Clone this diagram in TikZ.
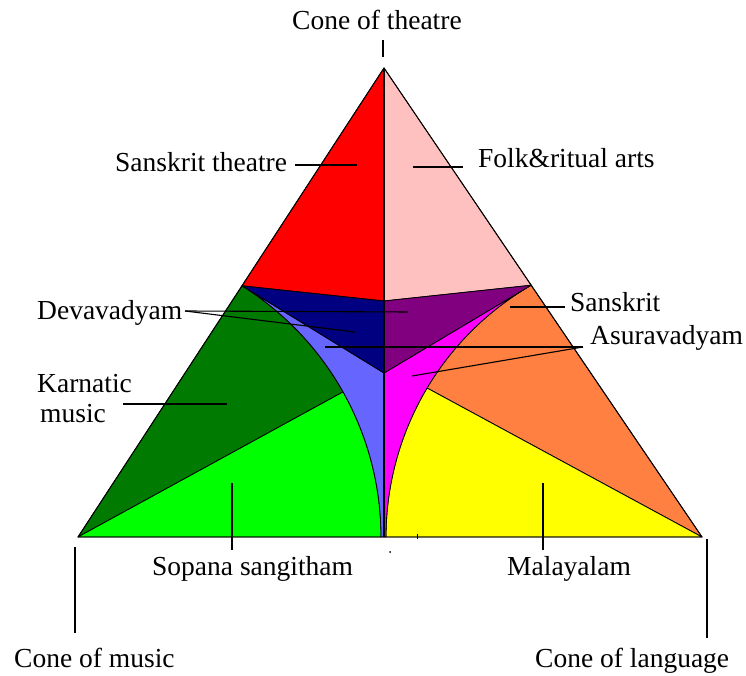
\documentclass[tikz,border=0pt]{standalone}
\usepackage{fontspec}
\setmainfont{Liberation Serif}
\definecolor{sktred}{RGB}{255,0,0}
\definecolor{folkpink}{RGB}{255,192,192}
\definecolor{devanavy}{RGB}{0,0,128}
\definecolor{skpurple}{RGB}{128,0,128}
\definecolor{devablue}{RGB}{102,102,255}
\definecolor{asuramag}{RGB}{255,0,255}
\definecolor{karngreen}{RGB}{0,122,0}
\definecolor{sopgreen}{RGB}{0,255,0}
\definecolor{sktorange}{RGB}{255,128,64}
\definecolor{malyellow}{RGB}{255,255,0}
\begin{document}
\begin{tikzpicture}[x=1pt,y=1pt,
  region/.style={draw=black, line width=0.8pt, line join=round},
  leader/.style={line width=1.1pt},
  lbl/.style={font=\fontsize{27.5}{30}\selectfont, inner sep=0pt, anchor=base west}]
\useasboundingbox (0,0) rectangle (746,675);

% corners of the triangle and the centre line
\coordinate (T) at (384,607);
\coordinate (L) at (78,138);
\coordinate (R) at (702,138);
\coordinate (M) at (384,138);
% upper wedge points on the centre line
\coordinate (Q) at (384,374);
\coordinate (V) at (384,302);
% arc around the music corner (centre CL, radius 296.5)
\coordinate (CL) at (84.5,138);
\coordinate (PL) at ([shift={(57.9:296.5)}]CL);
\coordinate (GL) at ([shift={(29.3:296.5)}]CL);
\coordinate (BL) at ([shift={(0:296.5)}]CL);
% arc around the language corner (centre CR, radius 291)
\coordinate (CR) at (677,138);
\coordinate (PR) at ([shift={(120.1:291)}]CR);
\coordinate (GR) at ([shift={(149.2:291)}]CR);
\coordinate (BR) at ([shift={(180:291)}]CR);

% coloured regions
\fill[sktred,region] (T) -- (PL) -- (Q) -- cycle;
\fill[folkpink,region] (T) -- (Q) -- (PR) -- cycle;
\fill[karngreen,region] (L) -- (PL) arc[start angle=57.9, end angle=29.3, radius=296.5pt] -- cycle;
\fill[sopgreen,region] (L) -- (GL) arc[start angle=29.3, end angle=0, radius=296.5pt] -- cycle;
\fill[sktorange,region] (R) -- (PR) arc[start angle=120.1, end angle=149.2, radius=291pt] -- cycle;
\fill[malyellow,region] (R) -- (GR) arc[start angle=149.2, end angle=180, radius=291pt] -- cycle;
\fill[devablue,region] (PL) -- (V) -- (M) -- (BL) arc[start angle=0, end angle=57.9, radius=296.5pt] -- cycle;
\fill[asuramag,region] (PR) -- (V) -- (M) -- (BR) arc[start angle=180, end angle=120.1, radius=291pt] -- cycle;
\fill[devanavy,region] (PL) -- (Q) -- (V) -- cycle;
\fill[skpurple,region] (PR) -- (Q) -- (V) -- cycle;

% outline and centre line
\draw[line width=0.9pt, line join=round] (T) -- (L) -- (R) -- cycle;
\draw[line width=1.2pt] (T) -- (M);

% labels
\node[lbl] (theatre) at (292,645) {Cone of theatre};
\node[lbl] (skttheatre) at (115,503) {Sanskrit theatre};
\node[lbl] (folk) at (478,507) {Folk\&ritual arts};
\node[lbl] (deva) at (37,355) {Devavadyam};
\node[lbl] (skt) at (570,363) {Sanskrit};
\node[lbl] (asura) at (590,330) {Asuravadyam};
\node[lbl] (karn1) at (37,282) {Karnatic};
\node[lbl] (karn2) at (40,252) {music};
\node[lbl] (sopana) at (152,100) {Sopana sangitham};
\node[lbl] (malayalam) at (507,100) {Malayalam};
\node[lbl] (music) at (14,8) {Cone of music};
\node[lbl] (language) at (535,8) {Cone of language};

% leader line ends
\coordinate (theatre-a) at (383,635);  \coordinate (theatre-b) at (383,618);
\coordinate (st-a) at (295,510);       \coordinate (st-b) at (357,510);
\coordinate (folk-a) at (463,508);     \coordinate (folk-b) at (413,508);
\coordinate (deva-a) at (185,364);     \coordinate (deva-b) at (408,363);
\coordinate (deva-c) at (355,343);
\coordinate (skt-a) at (565,368);      \coordinate (skt-b) at (510,368);
\coordinate (asura-a) at (583,328);    \coordinate (asura-b) at (325,328);
\coordinate (asura-c) at (412,299);
\coordinate (karn-a) at (123,271);     \coordinate (karn-b) at (227,271);
\coordinate (sop-a) at (232,125);      \coordinate (sop-b) at (232,192);
\coordinate (mal-a) at (543,125);      \coordinate (mal-b) at (543,192);
\coordinate (music-a) at (75,42);      \coordinate (music-b) at (75,128);
\coordinate (lang-a) at (707,37);      \coordinate (lang-b) at (707,136);

% leader lines
\draw[leader] (theatre-a) -- (theatre-b);
\draw[leader] (st-a) -- (st-b);
\draw[leader] (folk-a) -- (folk-b);
\draw[leader] (deva-a) -- (deva-b);
\draw[leader] (deva-a) -- (deva-c);
\draw[leader] (skt-a) -- (skt-b);
\draw[leader] (asura-a) -- (asura-b);
\draw[leader] (asura-a) -- (asura-c);
\draw[leader] (karn-a) -- (karn-b);
\draw[leader] (sop-a) -- (sop-b);
\draw[leader] (mal-a) -- (mal-b);
\draw[leader] (music-a) -- (music-b);
\draw[leader] (lang-a) -- (lang-b);

% small marks below the base
\coordinate (tick-a) at (417,141); \coordinate (tick-b) at (417,136);
\draw[line width=0.9pt] (tick-a) -- (tick-b);
\fill (390,123) circle[radius=1pt];
\end{tikzpicture}
\end{document}
